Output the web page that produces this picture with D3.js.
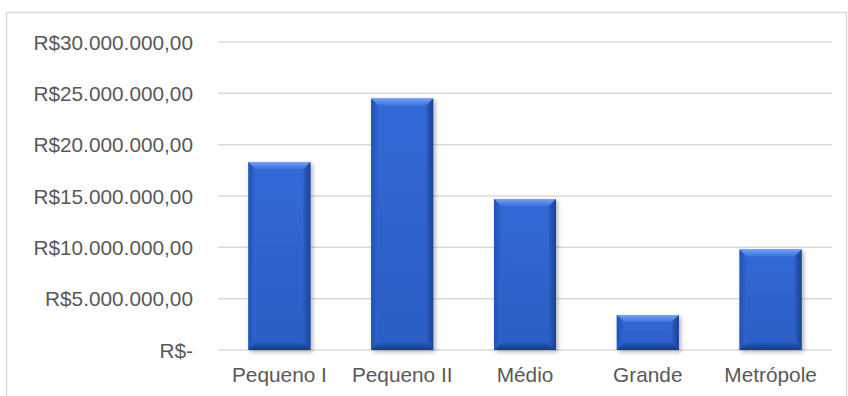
<!DOCTYPE html>
<html>
<head>
<meta charset="utf-8">
<script src="https://cdn.jsdelivr.net/npm/d3@7"></script>
<style>
  html, body { margin: 0; padding: 0; background: #ffffff; }
  svg { display: block; }
  text { font-family: "Liberation Sans", Arial, sans-serif; fill: #595959; }
</style>
</head>
<body>
<svg id="chart" width="848" height="396"></svg>
<script>
// Population size categories and amounts (R$)
const categories = ["Pequeno I", "Pequeno II", "Médio", "Grande", "Metrópole"];
const values = [18300000, 24500000, 14700000, 3400000, 9800000];
const yTicks = [0, 5000000, 10000000, 15000000, 20000000, 25000000, 30000000];
const yTickLabels = ["R$-", "R$5.000.000,00", "R$10.000.000,00", "R$15.000.000,00",
                     "R$20.000.000,00", "R$25.000.000,00", "R$30.000.000,00"];

const W = 848, H = 396;
const plot = { left: 218, right: 832, top: 42, bottom: 350 };
const fontSize = 20.8;

const svg = d3.select("#chart");
const defs = svg.append("defs");

// Outer chart frame
svg.append("rect")
  .attr("x", 6.5).attr("y", 12.5)
  .attr("width", 840).attr("height", 420)
  .attr("fill", "#ffffff")
  .attr("stroke", "#d9d9d9").attr("stroke-width", 1.5);

const x = d3.scaleBand().domain(categories).range([plot.left, plot.right]).paddingInner(0.495).paddingOuter(0.2475);
const y = d3.scaleLinear().domain([0, 30000000]).range([plot.bottom, plot.top]);

// Gridlines
svg.append("g").selectAll("line").data(yTicks).join("line")
  .attr("x1", plot.left).attr("x2", plot.right)
  .attr("y1", d => y(d)).attr("y2", d => y(d))
  .attr("stroke", "#d9d9d9").attr("stroke-width", 1.5);

// Y axis labels
const yAxis = d3.axisLeft(y).tickValues(yTicks).tickSize(0).tickPadding(0)
  .tickFormat((d, i) => yTickLabels[i]);
const gy = svg.append("g").attr("transform", `translate(${193},0)`).call(yAxis);
gy.select(".domain").remove();
gy.selectAll("text")
  .attr("font-size", fontSize)
  .attr("font-family", "Liberation Sans, Arial, sans-serif")
  .attr("fill", "#595959")
  .attr("dy", "0.35em");

// X axis labels
const xAxis = d3.axisBottom(x).tickSize(0).tickPadding(0);
const gx = svg.append("g").attr("transform", `translate(0,${plot.bottom})`).call(xAxis);
gx.select(".domain").remove();
gx.selectAll("text")
  .attr("font-size", fontSize)
  .attr("font-family", "Liberation Sans, Arial, sans-serif")
  .attr("fill", "#595959")
  .attr("y", 32).attr("dy", 0);

// Bevel gradients and shadow
const shadow = defs.append("filter").attr("id", "shadow")
  .attr("x", "-20%").attr("y", "-20%").attr("width", "150%").attr("height", "150%");
shadow.append("feDropShadow").attr("dx", 2).attr("dy", 2).attr("stdDeviation", 2)
  .attr("flood-color", "#000").attr("flood-opacity", 0.3);

function grad(id, x2, y2, stops) {
  const g = defs.append("linearGradient").attr("id", id)
    .attr("x1", 0).attr("y1", 0).attr("x2", x2).attr("y2", y2);
  stops.forEach(s => g.append("stop").attr("offset", s[0]).attr("stop-color", s[1]));
}
grad("face", 0, 1, [[0, "#3369d6"], [1, "#2b5ec4"]]);
grad("topBevel", 0, 1, [[0, "#78a4f4"], [0.35, "#5b90ee"], [1, "#3c73da"]]);
grad("leftBevel", 1, 0, [[0, "#2151b4"], [1, "#2f66ce"]]);
grad("rightBevel", 1, 0, [[0, "#2b5ec6"], [1, "#1a4196"]]);
grad("bottomBevel", 0, 1, [[0, "#2655b6"], [1, "#173a88"]]);

const bev = 7;
const bars = svg.append("g").selectAll("g").data(categories.map((c, i) => ({ c, v: values[i] })))
  .join("g").attr("filter", "url(#shadow)");

bars.append("rect")
  .attr("x", d => x(d.c)).attr("y", d => y(d.v))
  .attr("width", x.bandwidth()).attr("height", d => y(0) - y(d.v))
  .attr("fill", "url(#face)");

const poly = (pts) => pts.map(p => p.join(",")).join(" ");
bars.each(function(d) {
  const g = d3.select(this);
  const x0 = x(d.c), x1 = x0 + x.bandwidth();
  const y0 = y(d.v), y1 = y(0);
  const b = Math.min(bev, (y1 - y0) / 2);
  g.append("polygon").attr("points", poly([[x0, y0], [x1, y0], [x1 - b, y0 + b], [x0 + b, y0 + b]]))
    .attr("fill", "url(#topBevel)");
  g.append("polygon").attr("points", poly([[x0, y0], [x0 + b, y0 + b], [x0 + b, y1 - b], [x0, y1]]))
    .attr("fill", "url(#leftBevel)");
  g.append("polygon").attr("points", poly([[x1, y0], [x1, y1], [x1 - b, y1 - b], [x1 - b, y0 + b]]))
    .attr("fill", "url(#rightBevel)");
  g.append("polygon").attr("points", poly([[x0, y1], [x0 + b, y1 - b], [x1 - b, y1 - b], [x1, y1]]))
    .attr("fill", "url(#bottomBevel)");
});
</script>
</body>
</html>
